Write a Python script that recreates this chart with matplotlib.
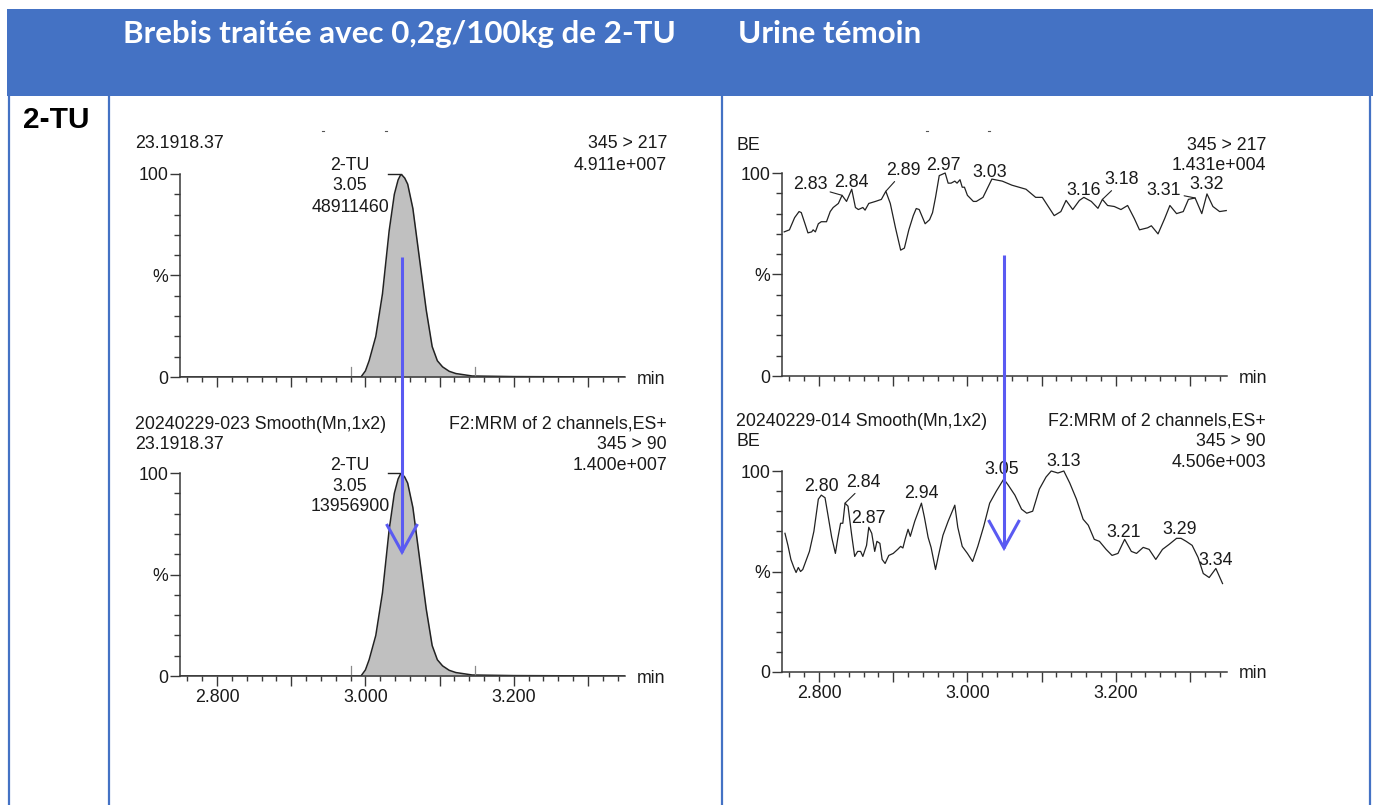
import matplotlib
matplotlib.use('Agg')
import matplotlib.pyplot as plt
from matplotlib.patches import Rectangle
from matplotlib.ticker import MultipleLocator, FixedLocator, FuncFormatter

plt.rcParams['font.family'] = ['Liberation Sans', 'DejaVu Sans']

# ---------------- data ----------------
col_headers = ['Brebis traitée avec 0,2g/100kg de 2-TU', 'Urine témoin']
row_label = '2-TU'
x_tick_values = [2.8, 3.0, 3.2]
x_tick_labels = ['2.800', '3.000', '3.200']
y_tick_values = [0, 50, 100]
y_tick_labels = ['0', '%', '100']

# treated ewe : 2-TU peak (retention time, % of max)
peak_t = [2.750, 2.994, 3.000, 3.005, 3.014, 3.023, 3.032, 3.039, 3.044, 3.048,
          3.053, 3.057, 3.064, 3.073, 3.082, 3.090, 3.097, 3.104, 3.113, 3.122,
          3.144, 3.200, 3.350]
peak_217 = [0, 0, 3, 8, 20, 41, 72, 90, 97, 100,
            98, 95, 83, 58, 33, 15, 8, 5, 2.8, 1.7,
            0.5, 0.2, 0]
peak_90 = [0, 0, 3, 8, 20, 41, 72, 90, 97, 100,
           98, 95, 83, 58, 33, 15, 8, 5, 2.8, 1.7,
           0.5, 0.2, 0]
peak_label_217 = ['2-TU', '3.05', '48911460']
peak_label_90 = ['2-TU', '3.05', '13956900']
integration_marks = [2.98, 3.148]

# control urine (BE), transition 345 > 217
be217_t = [2.753, 2.760, 2.767, 2.773, 2.776, 2.781, 2.785, 2.790, 2.792, 2.795,
           2.799, 2.803, 2.810, 2.815, 2.819, 2.826, 2.831, 2.837, 2.844, 2.849,
           2.853, 2.859, 2.862, 2.867, 2.876, 2.884, 2.890, 2.896, 2.903, 2.910,
           2.915, 2.921, 2.927, 2.931, 2.935, 2.943, 2.949, 2.953, 2.957, 2.962,
           2.970, 2.974, 2.978, 2.983, 2.986, 2.990, 2.993, 2.996, 3.000, 3.008,
           3.012, 3.021, 3.033, 3.047, 3.060, 3.079, 3.092, 3.101, 3.117, 3.126,
           3.133, 3.142, 3.151, 3.157, 3.167, 3.176, 3.182, 3.189, 3.198, 3.207,
           3.216, 3.225, 3.232, 3.243, 3.248, 3.257, 3.266, 3.273, 3.282, 3.291,
           3.298, 3.307, 3.316, 3.323, 3.331, 3.340, 3.349]
be217_pct = [71, 72, 78, 81, 80.5, 75, 70.5, 71, 72, 71,
             75, 76, 76, 81, 83, 85, 89, 86, 92, 83,
             82, 83, 81.7, 85, 86, 87, 91, 85, 73, 62,
             63, 72, 79, 82.5, 82, 75, 77, 80.5, 88, 98.7,
             100, 95, 95, 96, 95, 96.7, 93, 93, 89, 86,
             86, 88, 97, 96, 94, 92, 88, 88, 79, 81,
             86.5, 82, 86.5, 88, 86, 82.6, 87, 84, 83.5, 82,
             84, 77.6, 72, 73, 74, 70, 77.6, 84, 80, 81,
             87, 87.7, 80, 89.7, 83.5, 81, 81.5]
be217_labels = ['2.83', '2.84', '2.89', '2.97', '3.03', '3.16', '3.18', '3.31', '3.32']
be217_label_t = [2.831, 2.844, 2.890, 2.970, 3.033, 3.157, 3.182, 3.307, 3.323]
be217_label_pct = [89, 92, 91, 100, 97, 88, 87, 87.7, 89.7]

# control urine (BE), transition 345 > 90
be90_t = [2.754, 2.758, 2.762, 2.766, 2.769, 2.772, 2.775, 2.778, 2.783, 2.787,
          2.793, 2.799, 2.803, 2.808, 2.812, 2.817, 2.822, 2.825, 2.829, 2.832,
          2.835, 2.839, 2.844, 2.848, 2.852, 2.856, 2.859, 2.864, 2.867, 2.871,
          2.875, 2.878, 2.882, 2.885, 2.889, 2.894, 2.900, 2.906, 2.910, 2.913,
          2.916, 2.920, 2.923, 2.929, 2.938, 2.942, 2.947, 2.951, 2.957, 2.961,
          2.967, 2.974, 2.983, 2.987, 2.993, 3.000, 3.007, 3.014, 3.022, 3.030,
          3.039, 3.049,
          3.055, 3.064, 3.073, 3.080, 3.088, 3.097, 3.106, 3.113, 3.122, 3.130,
          3.138, 3.147, 3.156, 3.163, 3.171, 3.178, 3.187, 3.195, 3.203, 3.212,
          3.221, 3.228, 3.237, 3.245, 3.254, 3.263, 3.272, 3.282, 3.288, 3.295,
          3.303, 3.311, 3.318, 3.326, 3.335, 3.344]
be90_pct = [69, 63, 56, 52, 49.5, 52, 50, 51, 56, 60,
            70, 86, 88, 86.7, 78, 67, 59, 66, 74, 74,
            84, 82.5, 68, 57.5, 60, 60, 57.5, 63, 72, 69,
            60, 65, 64, 56, 54, 58, 59, 61, 62.5, 61.7,
            66, 71, 67.5, 75, 84, 77, 67, 62, 51, 58,
            68, 75, 83, 72, 62.5, 59, 55, 62.5, 72.5, 84,
            90, 96,
            93, 88, 81, 79, 80, 91, 97, 100, 99, 100,
            94, 86, 76, 73, 66, 65, 61, 58, 59, 66,
            60, 59, 62, 61, 56, 61, 63.5, 66.5, 66.5, 65,
            63, 57, 49, 47, 51.5, 44]
be90_labels = ['2.80', '2.84', '2.87', '2.94', '3.05', '3.13', '3.21', '3.29', '3.34']
be90_label_t = [2.803, 2.835, 2.867, 2.938, 3.049, 3.130, 3.212, 3.288, 3.335]
be90_label_pct = [88, 84, 72, 84, 96, 100, 66, 66.5, 51.5]

info_lt_left = ['23.1918.37']
info_lt_right = ['345 > 217', '4.911e+007']
info_lb_left = ['20240229-023 Smooth(Mn,1x2)', '23.1918.37']
info_lb_right = ['F2:MRM of 2 channels,ES+', '345 > 90', '1.400e+007']
info_rt_left = ['BE']
info_rt_right = ['345 > 217', '1.431e+004']
info_rb_left = ['20240229-014 Smooth(Mn,1x2)', 'BE']
info_rb_right = ['F2:MRM of 2 channels,ES+', '345 > 90', '4.506e+003']

# ---------------- figure ----------------
W, H = 1373, 805
fig = plt.figure(figsize=(W / 100, H / 100), dpi=100)
fig.patch.set_facecolor('white')

BLUE = '#4472C4'
ARROW = '#5a5af2'
INK = '#1a1a1a'
AXC = '#383838'
LINE = '#222222'
FS = 12.8


def px_axes(left, top, right, bottom):
    return fig.add_axes([left / W, 1 - bottom / H, (right - left) / W, (bottom - top) / H])


def xfmt_labels(v, pos):
    for tv, tl in zip(x_tick_values, x_tick_labels):
        if abs(v - tv) < 1e-6:
            return tl
    return ''


def style_chart(ax, show_x):
    ax.set_xlim(2.75, 3.35)
    ax.set_ylim(0, 100)
    ax.set_facecolor('none')
    for s in ('top', 'right'):
        ax.spines[s].set_visible(False)
    for s in ('left', 'bottom'):
        ax.spines[s].set_color(AXC)
        ax.spines[s].set_linewidth(1.1)
    ax.yaxis.set_major_locator(FixedLocator(y_tick_values))
    ax.yaxis.set_minor_locator(MultipleLocator(10))
    ax.set_yticklabels(y_tick_labels)
    ax.xaxis.set_major_locator(MultipleLocator(0.1))
    ax.xaxis.set_minor_locator(MultipleLocator(0.02))
    ax.xaxis.set_major_formatter(FuncFormatter(xfmt_labels if show_x else (lambda v, p: '')))
    ax.tick_params(axis='x', which='major', length=7.2, width=1, color=AXC,
                   labelsize=FS, labelcolor=INK, pad=2.5)
    ax.tick_params(axis='x', which='minor', length=3.6, width=1, color=AXC)
    ax.tick_params(axis='y', which='major', length=7.2, width=1, color=AXC,
                   labelsize=FS, labelcolor=INK, pad=1)
    ax.tick_params(axis='y', which='minor', length=4.3, width=1, color=AXC)
    ax.annotate('min', xy=(1, 0), xycoords='axes fraction', xytext=(12, 0),
                textcoords='offset pixels', ha='left', va='center_baseline',
                fontsize=FS, color=INK)


def peak_panel(ax, values):
    ax.fill_between(peak_t, values, 0, color='#c0c0c0', lw=0, zorder=1)
    ax.plot(peak_t, values, color=LINE, lw=1.1, zorder=2)
    for m in integration_marks:
        ax.plot([m, m], [0, 5], color='#8a8a8a', lw=0.9, zorder=2)
    ax.plot([3.031, 3.048], [100, 100], color=LINE, lw=1.0, clip_on=False, zorder=2)


def noise_panel(ax, t, pct, labels, lt, lp, offsets):
    ax.plot(t, pct, color=LINE, lw=0.9, clip_on=False)
    for lab, x, y, (dx, dy, rel) in zip(labels, lt, lp, offsets):
        kw = {}
        if rel is not None:
            kw['arrowprops'] = dict(arrowstyle='-', color=LINE, lw=0.8,
                                    shrinkA=0, shrinkB=0, relpos=rel)
        ax.annotate(lab, xy=(x, y), xytext=(dx, dy), textcoords='offset pixels',
                    ha='center', va='center_baseline', fontsize=FS, color=INK,
                    annotation_clip=False, **kw)


ax_lt = px_axes(180, 174, 625, 377)
style_chart(ax_lt, False)
peak_panel(ax_lt, peak_217)

ax_lb = px_axes(180, 473, 625, 676)
style_chart(ax_lb, True)
peak_panel(ax_lb, peak_90)

ax_rt = px_axes(782, 173, 1227, 376)
style_chart(ax_rt, False)
noise_panel(ax_rt, be217_t, be217_pct, be217_labels, be217_label_t, be217_label_pct,
            [(-32, 13, (1.0, 0.1)), (0, 9, None), (18, 23, (0.35, 0.1)), (-2, 9, None),
             (-2, 9, None), (0, 9, None), (19, 22, (0.35, 0.1)), (-31, 9, (1.0, 0.25)),
             (0, 11, None)])

ax_rb = px_axes(782, 471, 1227, 672)
style_chart(ax_rb, True)
noise_panel(ax_rb, be90_t, be90_pct, be90_labels, be90_label_t, be90_label_pct,
            [(0, 11, None), (18, 23, (0.4, 0.1)), (0, 11, None), (0, 12, None),
             (-2, 12, None), (0, 11, None), (-1, 9, None), (-1, 11, None),
             (0, 10, None)])

# ---------------- overlay (table, texts, arrows) in pixel coordinates ----------------
ov = fig.add_axes([0, 0, 1, 1])
ov.set_xlim(0, W)
ov.set_ylim(H, 0)
ov.axis('off')

ov.add_patch(Rectangle((7, 9), W - 7, 87, facecolor=BLUE, edgecolor='none'))
for xv in (9, 109, 722, 1370):
    ov.plot([xv, xv], [96, H], color=BLUE, lw=1.6, solid_capstyle='butt')

r = fig.canvas.get_renderer()
h1 = ov.text(123, 43, col_headers[0], color='white', fontsize=20, fontweight='bold',
             family=['Lato', 'DejaVu Sans'], ha='left', va='baseline')
w = h1.get_window_extent(r).width
hfs = 20 * 555 / w
h1.set_fontsize(hfs)
ov.text(738, 43, col_headers[1], color='white', fontsize=hfs, fontweight='bold',
        family=['Lato', 'DejaVu Sans'], ha='left', va='baseline')

ov.text(23, 128, row_label, color='black', fontsize=21.5, fontweight='bold',
        ha='left', va='baseline')


def stack(x, ys, lines, ha):
    for y, s in zip(ys, lines):
        ov.text(x, y, s, ha=ha, va='center_baseline', fontsize=FS, color=INK)


stack(135, [142], info_lt_left, 'left')
stack(667, [142, 163], info_lt_right, 'right')
stack(135, [422, 442], info_lb_left, 'left')
stack(667, [422, 442, 463], info_lb_right, 'right')
stack(736, [143], info_rt_left, 'left')
stack(1266, [143, 163], info_rt_right, 'right')
stack(736, [419, 439], info_rb_left, 'left')
stack(1266, [419, 439, 460], info_rb_right, 'right')
stack(350, [163, 184, 205], peak_label_217, 'center')
stack(350, [463, 484, 504], peak_label_90, 'center')

# small clipping remnants above the top panels
for xv in (323, 386, 927, 989):
    ov.plot([xv - 1, xv + 1], [131, 131], color='#555555', lw=0.8)

# blue arrows
for xv, top, tip in ((402, 257, 552), (1004, 255, 548)):
    ov.plot([xv, xv], [top, tip], color=ARROW, lw=2.2, solid_capstyle='butt')
    ov.plot([xv - 15.5, xv, xv + 15.5], [tip - 28, tip, tip - 28], color=ARROW, lw=2.2,
            solid_joinstyle='miter', solid_capstyle='butt')

fig.savefig('out.png', dpi=100, facecolor='white')
